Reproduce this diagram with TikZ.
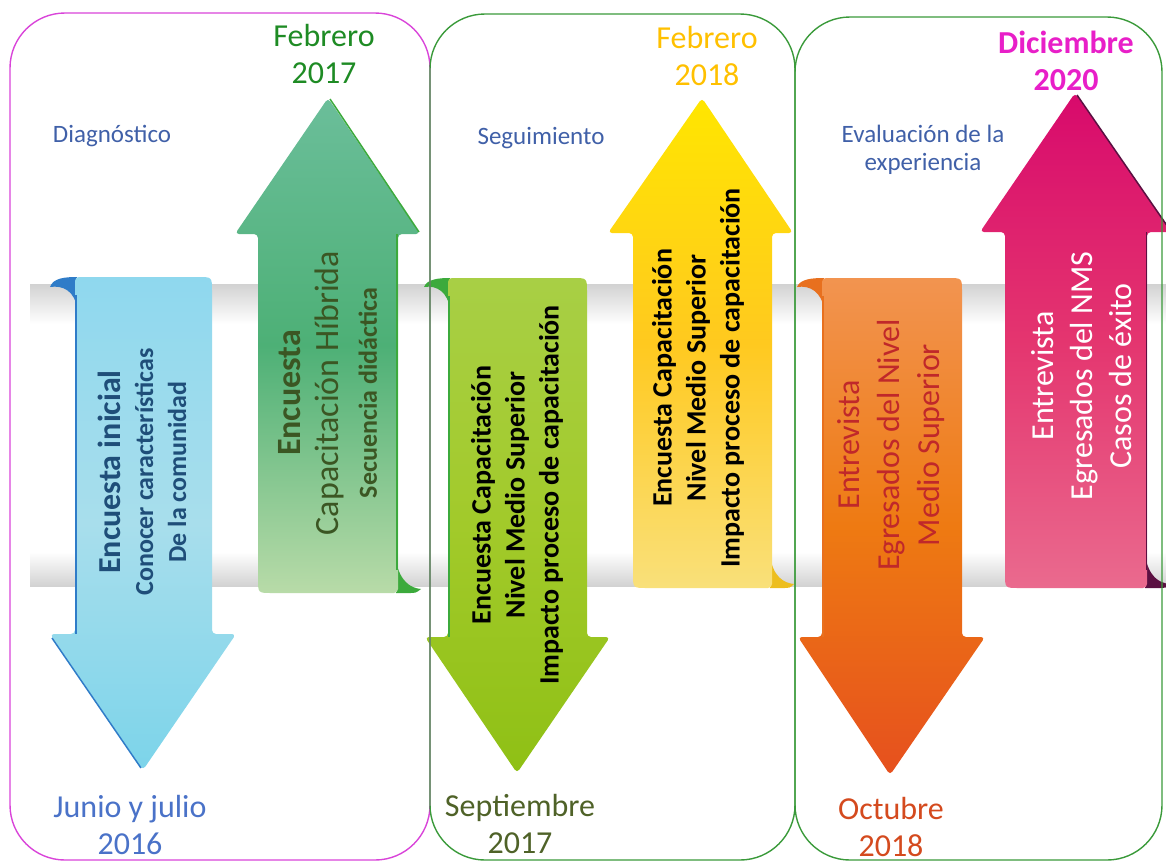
\documentclass[tikz,border=0pt]{standalone}
\usepackage{fontspec}
\setmainfont{Carlito}

\definecolor{framemag}{HTML}{D944D9}
\definecolor{framegreen}{HTML}{3A9A3A}
\definecolor{etapablue}{HTML}{4060A8}
\definecolor{pipegray}{HTML}{D2D2D2}
\definecolor{curlblue}{HTML}{2F7CC8}
\definecolor{curlgreen}{HTML}{3CAA3C}
\definecolor{curlyellow}{HTML}{EDBE1E}
\definecolor{curlorange}{HTML}{E8701E}
\definecolor{curlmag}{HTML}{5B1042}
\definecolor{txtblue}{HTML}{1F4E79}
\definecolor{txtgreen}{HTML}{3B5623}
\definecolor{txtred}{HTML}{C0282A}
\definecolor{feb17col}{HTML}{1E8B24}
\definecolor{feb18col}{HTML}{FFC000}
\definecolor{dic20col}{HTML}{E81FC8}
\definecolor{jun16col}{HTML}{4A72C8}
\definecolor{sep17col}{HTML}{4F6228}
\definecolor{oct18col}{HTML}{D44A1E}

\tikzset{
  shadeblue/.style={top color={rgb,255:red,143;green,216;blue,238}, bottom color={rgb,255:red,124;green,212;blue,234}, middle color={rgb,255:red,168;green,222;blue,236}},
  shadegreen/.style={top color={rgb,255:red,107;green,190;blue,154}, bottom color={rgb,255:red,184;green,219;blue,168}, middle color={rgb,255:red,77;green,176;blue,118}},
  shadelime/.style={top color={rgb,255:red,168;green,207;blue,69}, bottom color={rgb,255:red,143;green,192;blue,21}, middle color={rgb,255:red,162;green,202;blue,42}},
  shadeyellow/.style={top color={rgb,255:red,255;green,230;blue,0}, bottom color={rgb,255:red,249;green,224;blue,122}, middle color={rgb,255:red,255;green,201;blue,31}},
  shadeorange/.style={top color={rgb,255:red,242;green,148;blue,80}, bottom color={rgb,255:red,230;green,80;blue,30}, middle color={rgb,255:red,238;green,122;blue,18}},
  shademag/.style={top color={rgb,255:red,216;green,10;blue,108}, bottom color={rgb,255:red,234;green,106;blue,142}, middle color={rgb,255:red,228;green,53;blue,111}},
  arrowtext/.style={rotate=90, align=center, inner sep=0pt},
  fechalbl/.style={align=center, inner sep=0pt, font=\fontsize{32}{37}\selectfont},
  etapalbl/.style={align=center, inner sep=0pt, text=etapablue, font=\fontsize{25}{28}\selectfont},
  marco/.style={line width=1.4pt, rounded corners=55pt}
}

\begin{document}
\begin{tikzpicture}[x=1pt, y=-1pt]
    \useasboundingbox (0,0) rectangle (1166,863);

    % Tubo horizontal
    \fill[white] (30,284) rectangle (1166,586);
    \shade[top color=pipegray, bottom color=white] (30,284) rectangle (1166,324);
    \shade[top color=white, bottom color=pipegray] (30,552) rectangle (1166,586);

    % Flecha azul (junio y julio 2016)
    \fill[curlblue] (50,287) .. controls (53,278) and (65,277) .. (77,277) -- (77,309) .. controls (75,291) and (63,285) .. (50,287) -- cycle;
    \shade[shadeblue] (75,277) -- (198,277) .. controls (212,277) .. (212,291) [rounded corners=4pt] -- (212,634) -- (236,634) -- (143,770) -- (50,634) -- (75,634) -- cycle;
    \draw[curlblue, line width=2pt] (76,295) -- (76,634);
    \draw[curlblue, line width=1.5pt] (52,638) -- (141,768);

    % Flecha verde (febrero 2017)
    \fill[curlgreen] (421,589) .. controls (410,588) and (400,581) .. (396,561) -- (396,593) -- (408,593) .. controls (416,593) .. (421,589) -- cycle;
    \shade[shadegreen] (398,593) -- (272,593) .. controls (258,593) .. (258,579) [rounded corners=4pt] -- (258,234) -- (235,234) -- (328,98) -- (420,234) -- (398,234) -- cycle;
    \draw[curlgreen, line width=1.5pt] (330,99) -- (419,232);
    \draw[curlgreen, line width=1.5pt] (397,234) -- (397,570);

    % Flecha verde limon (septiembre 2017)
    \fill[curlgreen] (424,287) .. controls (427,279) and (439,278) .. (450,278) -- (450,310) .. controls (448,292) and (437,285) .. (424,287) -- cycle;
    \shade[shadelime] (448,278) -- (573,278) .. controls (587,278) .. (587,292) [rounded corners=4pt] -- (587,637) -- (610,637) -- (517,773) -- (425,637) -- (448,637) -- cycle;
    \draw[curlgreen, line width=1.5pt] (449,296) -- (449,637);

    % Flecha amarilla (febrero 2018)
    \fill[curlyellow] (794,584) .. controls (783,583) and (773,576) .. (770,556) -- (770,588) -- (782,588) .. controls (790,588) .. (794,584) -- cycle;
    \shade[shadeyellow] (772,588) -- (647,588) .. controls (633,588) .. (633,574) [rounded corners=4pt] -- (633,233) -- (608,233) -- (702,98) -- (793,233) -- (772,233) -- cycle;

    % Flecha naranja (octubre 2018)
    \fill[curlorange] (797,287) .. controls (800,279) and (812,278) .. (824,278) -- (824,310) .. controls (822,292) and (810,285) .. (797,287) -- cycle;
    \shade[shadeorange] (822,278) -- (948,278) .. controls (962,278) .. (962,292) [rounded corners=4pt] -- (962,637) -- (985,637) -- (890,775) -- (798,637) -- (822,637) -- cycle;
    \draw[curlorange, line width=1.5pt] (823,296) -- (823,637);

    % Flecha magenta (diciembre 2020)
    \fill[curlmag] (1170,584) .. controls (1158,583) and (1149,576) .. (1145,556) -- (1145,588) -- (1158,588) .. controls (1166,588) .. (1170,584) -- cycle;
    \shade[shademag] (1147,588) -- (1019,588) .. controls (1005,588) .. (1005,574) [rounded corners=4pt] -- (1005,232) -- (980,232) -- (1075,93) -- (1172,232) -- (1147,232) -- cycle;
    \draw[curlmag, line width=1.5pt] (1077,95) -- (1170,230);
    \draw[curlmag, line width=1pt] (1146,232) -- (1146,570);

    % Textos de las flechas
    \node[arrowtext, text=txtblue, font=\bfseries\fontsize{26}{33}\selectfont] (txtinicial) at (142,472)
        {{\fontsize{32}{33}\selectfont Encuesta inicial}\\Conocer características\\De la comunidad};
    \node[arrowtext, text=txtgreen, font=\fontsize{34}{38}\selectfont] (txthibrida) at (328,393)
        {\textbf{Encuesta}\\Capacitación Híbrida\\{\bfseries\fontsize{26}{38}\selectfont Secuencia didáctica}};
    \node[arrowtext, text=black, font=\bfseries\fontsize{28}{34}\selectfont] (txtsept) at (517,495)
        {Encuesta Capacitación\\Nivel Medio Superior\\Impacto proceso de capacitación};
    \node[arrowtext, text=black, font=\bfseries\fontsize{28}{34}\selectfont] (txtfeb) at (698,378)
        {Encuesta Capacitación\\Nivel Medio Superior\\Impacto proceso de capacitación};
    \node[arrowtext, text=txtred, font=\fontsize{32}{40}\selectfont] (txtoct) at (891,445)
        {Entrevista\\Egresados del Nivel\\Medio Superior};
    \node[arrowtext, text=white, font=\fontsize{32}{39}\selectfont] (txtdic) at (1082,376)
        {Entrevista\\Egresados del NMS\\Casos de éxito};

    % Marcos de las etapas
    \draw[marco, framemag] (10,13) rectangle (430,860);
    \draw[marco, framegreen] (430,14) rectangle (795,860);
    \draw[marco, framegreen] (795,17) rectangle (1162,860);

    % Etapas
    \node[etapalbl] (diagnostico) at (112,136) {Diagnóstico};
    \node[etapalbl] (seguimiento) at (541,138) {Seguimiento};
    \node[etapalbl] (evaluacion) at (923,150) {Evaluación de la\\experiencia};

    % Fechas
    \node[fechalbl, text=feb17col] (feb17) at (324,54) {Febrero\\2017};
    \node[fechalbl, text=feb18col] (feb18) at (707,56) {Febrero\\2018};
    \node[fechalbl, text=dic20col, font=\bfseries\fontsize{32}{37}\selectfont] (dic20) at (1066,61) {Diciembre\\2020};
    \node[fechalbl, text=jun16col] (jun16) at (130,825) {Junio y julio\\2016};
    \node[fechalbl, text=sep17col] (sep17) at (520,824) {Septiembre\\2017};
    \node[fechalbl, text=oct18col] (oct18) at (891,827) {Octubre\\2018};

\end{tikzpicture}
\end{document}
